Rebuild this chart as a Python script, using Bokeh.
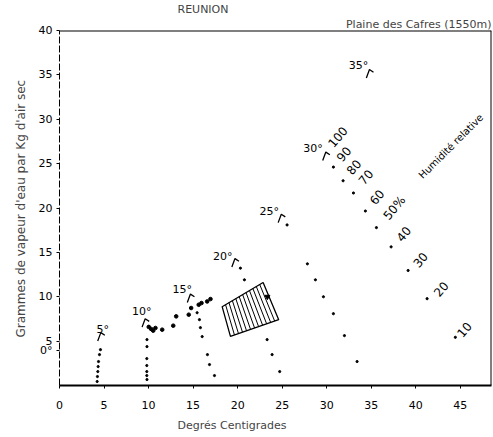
import numpy as np
from bokeh.plotting import figure
from bokeh.models import Label, FixedTicker, Range1d, Title
from bokeh.core.properties import value
from bokeh.embed import file_html
from bokeh.resources import INLINE

FONT = "DejaVu Sans"

# ---- axes ----
x_ticks = [0, 5, 10, 15, 20, 25, 30, 35, 40, 45]
y_ticks = [5, 10, 15, 20, 25, 30, 35, 40]
zero_label_y = 3.93  # position of the "0°" mark on the left axis

# ---- saturation points (temperature labels and hooks) ----
temp_labels = ["5°", "10°", "15°", "20°", "25°", "30°", "35°"]
temp_label_x = [4.86, 9.24, 13.77, 18.33, 23.56, 28.47, 33.56]
temp_label_y = [6.29, 8.35, 10.79, 14.53, 19.58, 26.7, 36.07]
hook_x = [4.64, 9.62, 14.7, 19.7, 24.9, 29.9, 34.8]
hook_y = [5.96, 7.53, 10.3, 14.3, 19.3, 26.3, 35.6]

# ---- dotted lines below each saturation point ----
line05_x = [4.60, 4.49, 4.38, 4.34, 4.30, 4.26, 4.23]
line05_y = [4.04, 3.48, 2.70, 2.13, 1.57, 1.01, 0.45]
line10_x = [9.82, 9.82, 9.80, 9.80, 9.80, 9.80, 9.82]
line10_y = [5.17, 4.38, 3.03, 2.25, 1.57, 1.12, 0.67]
line15_x = [15.45, 15.71, 15.82, 16.02, 16.61, 16.84, 17.40]
line15_y = [8.20, 7.42, 6.52, 5.51, 3.48, 2.36, 1.12]
line20_x = [20.31, 20.76, 23.31, 23.87, 24.72]
line20_y = [13.22, 11.91, 5.17, 3.48, 1.57]
line25_x = [25.55, 27.83, 28.73, 29.63, 30.75, 31.99, 33.41]
line25_y = [18.09, 13.71, 11.91, 10.00, 8.09, 5.62, 2.70]
line30_x = [30.75, 31.84, 33.00, 34.34, 35.58, 37.23, 39.14, 41.27, 44.44]
line30_y = [24.61, 23.07, 21.69, 19.66, 17.79, 15.62, 12.96, 9.78, 5.43]

# ---- observations ----
obs_x = [10.02, 10.29, 10.52, 10.77, 11.53, 12.77, 13.10, 14.51, 14.78, 15.63, 15.94, 16.58, 16.95]
obs_y = [6.60, 6.37, 6.18, 6.48, 6.29, 6.74, 7.79, 7.98, 8.73, 9.10, 9.29, 9.47, 9.74]

# ---- hatched zone ----
box_x = [18.26, 22.86, 24.61, 19.19]
box_y = [8.88, 11.61, 7.42, 5.54]
mark_x = [23.34]
mark_y = [10.0]

# ---- relative humidity labels ----
rh_labels = ["100", "90", "80", "70", "60", "50%", "40", "30", "20", "10"]
rh_x = [31.23, 31.91, 33.03, 34.38, 35.63, 37.6, 38.64, 40.52, 42.84, 45.45]
rh_y = [28.01, 26.07, 24.61, 23.48, 21.24, 20.0, 17.08, 14.16, 10.87, 6.29]

X0, X1, Y0, Y1 = 0, 48.5, 0, 40

p = figure(width=493, height=437, x_range=Range1d(X0, X1), y_range=Range1d(Y0, Y1),
           output_backend="svg", toolbar_location=None,
           min_border_left=59, min_border_right=2, min_border_top=30, min_border_bottom=51)
p.background_fill_color = "white"
p.border_fill_color = "white"
p.grid.visible = False
p.outline_line_color = None

# titles
p.title.text = "REUNION"
p.title.align = "left"
p.title.offset = 118
p.title.standoff = 0
p.title.vertical_align = "bottom"
p.title.text_font = FONT
p.title.text_font_size = "11px"
p.title.text_font_style = "normal"
p.add_layout(Title(text="Plaine des Cafres (1550m)", align="right", offset=0, standoff=0,
                   text_font=FONT, text_font_size="11px", text_font_style="normal"), "above")
p.add_layout(Title(text="Degrés   Centigrades", align="left", offset=118, standoff=11,
                   text_font=FONT, text_font_size="11px", text_font_style="normal"), "below")
p.add_layout(Title(text="Grammes de vapeur d'eau par Kg d'air sec", align="left", offset=48,
                   standoff=16, text_font=FONT, text_font_size="12px",
                   text_font_style="normal"), "left")

for ax, ticks in ((p.xaxis, x_ticks), (p.yaxis, y_ticks + [zero_label_y])):
    ax.ticker = FixedTicker(ticks=ticks)
    ax.minor_tick_line_color = None
    ax.major_tick_in = 0
    ax.major_tick_out = 3
    ax.major_label_text_font = FONT
    ax.major_label_text_font_size = "11px"
    ax.major_label_text_color = "black"
    ax.axis_line_color = "black"
    ax.major_tick_line_color = "black"
p.xaxis.axis_line_width = 2
p.xaxis.major_label_standoff = 12
p.yaxis.major_label_standoff = 4
p.yaxis.axis_line_dash = "7 2"
p.yaxis.major_label_overrides = {zero_label_y: "0°"}

# top and right borders of the frame
p.segment([X0, X1], [Y1, Y0], [X1, X1], [Y1, Y1], line_color="black", line_width=2)

# dotted lines
for lx, ly in ((line05_x, line05_y), (line10_x, line10_y), (line15_x, line15_y),
               (line20_x, line20_y), (line25_x, line25_y), (line30_x, line30_y)):
    p.scatter(lx, ly, size=2.2, color="black")

# hooks at saturation points
p.multi_line([[x - 0.35, x, x + 0.45] for x in hook_x],
             [[y - 0.95, y, y - 0.3] for y in hook_y], line_color="black", line_width=1.3)

p.text(temp_label_x, temp_label_y, text=temp_labels, text_font=value(FONT),
       text_font_size="11px", text_align="center", text_baseline="middle", color="black")

# observations
p.scatter(obs_x, obs_y, size=3.6, color="black")

# hatched zone
p.patch(box_x, box_y, fill_color=None, line_color="black", line_width=1.3)
n = 11
fr = np.arange(1, n + 1) / (n + 1)
tx = box_x[0] + fr * (box_x[1] - box_x[0]); ty = box_y[0] + fr * (box_y[1] - box_y[0])
bx = box_x[3] + fr * (box_x[2] - box_x[3]); by = box_y[3] + fr * (box_y[2] - box_y[3])
p.segment(tx, ty, bx, by, line_color="black", line_width=1)
p.scatter(mark_x, mark_y, marker="inverted_triangle", size=5, color="black")

# RH labels
p.text(rh_x, rh_y, text=rh_labels, angle=np.deg2rad(50), text_font=value(FONT),
       text_font_size="12px", text_align="center", text_baseline="middle", color="black")
p.add_layout(Label(x=44.07, y=27.08, text="Humidité  relative", angle=np.deg2rad(45),
                   text_font=FONT, text_font_size="10px", text_align="center",
                   text_baseline="middle", text_color="black"))

open("out.html", "w").write(file_html(p, INLINE))
